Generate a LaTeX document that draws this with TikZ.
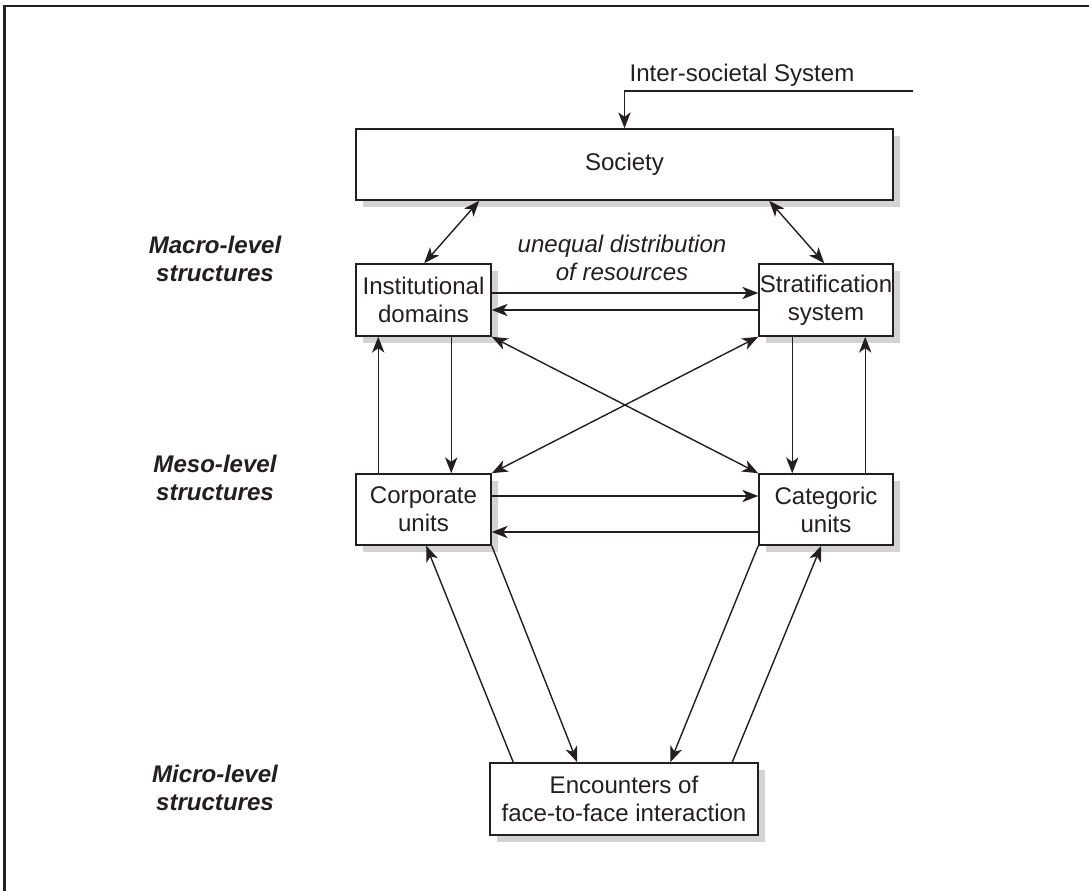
\documentclass[tikz,border=0pt]{standalone}
\usepackage{fontspec}
\setmainfont{Liberation Sans}
\usetikzlibrary{arrows.meta,calc,shadows}
\definecolor{ink}{HTML}{231F20}
\definecolor{shgray}{HTML}{D3D3D3}
\tikzset{
  box/.style={draw=ink, line width=0.9pt, fill=white, inner sep=0pt, align=center,
    font=\fontsize{13.7}{16}\selectfont, text=ink,
    general shadow={fill=shgray, shadow xshift=0.14cm, shadow yshift=-0.14cm}},
  tip/.tip={Stealth[length=9pt,width=7pt,inset=2.5pt]},
  arr/.style={draw=ink, line width=0.8pt, -tip},
  dbl/.style={draw=ink, line width=0.8pt, tip-tip},
  lvl/.style={font=\fontsize{13.7}{16}\selectfont\bfseries\itshape, text=ink, align=center},
  note/.style={font=\fontsize{13.7}{16}\selectfont\itshape, text=ink, align=center},
  plain/.style={font=\fontsize{13.7}{16}\selectfont, text=ink}
}
\begin{document}
\begin{tikzpicture}[x=0.02cm, y=-0.02cm]
\useasboundingbox (0,0) rectangle (1089,891);
% frame along the top and left edges
\draw[ink, line width=1.2pt] (4.5,891) -- (4.5,6) -- (1089,6);

% boxes
\node[box, minimum width=10.74cm, minimum height=1.42cm] (soc) at (624.5,164.5) {Society};
\node[box, minimum width=2.70cm, minimum height=1.44cm] (inst) at (423.5,300) {Institutional\\domains};
\node[box, minimum width=2.68cm, minimum height=1.44cm] (strat) at (826,300) {Stratification\\system};
\node[box, minimum width=2.70cm, minimum height=1.42cm] (corp) at (423.5,509.5) {Corporate\\units};
\node[box, minimum width=2.68cm, minimum height=1.42cm] (cat) at (826,509.5) {Categoric\\units};
\node[box, minimum width=5.36cm, minimum height=1.44cm] (enc) at (624,799) {Encounters of\\face-to-face interaction};

% texts
\node[plain] (ist) at (742,75) {Inter-societal System};
\node[note] (ued) at (622,257.5) {unequal distribution\\of resources};
\node[lvl] (macro) at (215,258.5) {Macro-level\\structures};
\node[lvl] (meso) at (215,478) {Meso-level\\structures};
\node[lvl] (micro) at (215,788) {Micro-level\\structures};

% inter-societal input
\coordinate (istend) at (913,91);
\draw[arr] (istend) -| (soc.north);

% society and the macro structures
\draw[dbl] ($(soc.south west)+(124,0)$) -- ($(inst.north west)+(69,0)$);
\draw[dbl] ($(soc.south west)+(414,0)$) -- ($(strat.north west)+(66,0)$);

% institutional domains and stratification
\draw[arr] ($(inst.east)+(0,-7)$) -- ($(strat.west)+(0,-7)$);
\draw[arr] ($(strat.west)+(0,10)$) -- ($(inst.east)+(0,10)$);

% macro to meso verticals
\draw[arr] ($(inst.south west)+(96,0)$) -- ($(corp.north west)+(96,0)$);
\draw[arr] ($(corp.north west)+(23,0)$) -- ($(inst.south west)+(23,0)$);
\draw[arr] ($(strat.south west)+(34,0)$) -- ($(cat.north west)+(34,0)$);
\draw[arr] ($(cat.north west)+(107,0)$) -- ($(strat.south west)+(107,0)$);

% crossing links
\draw[dbl] (inst.south east) -- (cat.north west);
\draw[dbl] (strat.south west) -- (corp.north east);

% corporate and categoric units
\draw[arr] ($(corp.east)+(0,-13.5)$) -- ($(cat.west)+(0,-13.5)$);
\draw[arr] ($(cat.west)+(0,22.5)$) -- ($(corp.east)+(0,22.5)$);

% meso to micro
\draw[arr] ($(enc.north west)+(24,0)$) -- ($(corp.south west)+(71,0)$);
\draw[arr] (corp.south east) -- ($(enc.north west)+(88,0)$);
\draw[arr] (cat.south west) -- ($(enc.north west)+(181,0)$);
\draw[arr] ($(enc.north west)+(243,0)$) -- ($(cat.south west)+(63,0)$);
\end{tikzpicture}
\end{document}
